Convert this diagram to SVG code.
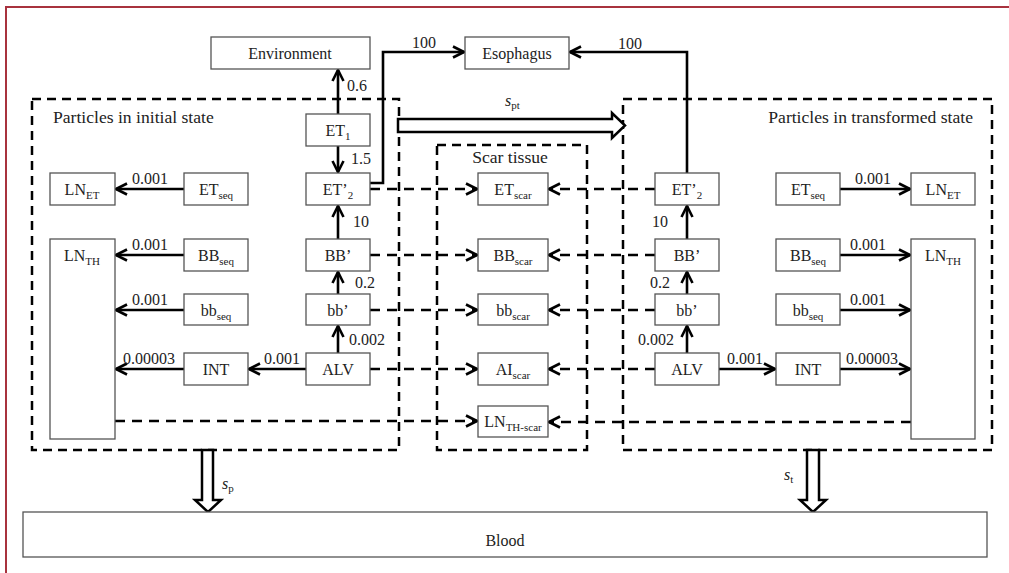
<svg xmlns="http://www.w3.org/2000/svg" width="1009" height="573" viewBox="0 0 1009 573">
<style>
text{font-family:'Liberation Serif','Times New Roman','DejaVu Serif',serif;font-size:16px;fill:#222}
.sub{font-size:11px}
.title{font-size:17.6px}
.box{fill:#fff;stroke:#555;stroke-width:1.3}
.dbox{fill:none;stroke:#000;stroke-width:2.5;stroke-dasharray:9 6}
.arr{fill:none;stroke:#000;stroke-width:2.6;marker-end:url(#ah)}
.dash{stroke-dasharray:10 7}
.hollow{fill:#fff;stroke:#000;stroke-width:2.5;stroke-linejoin:miter}
.it{font-style:italic}
</style>
<defs>
<marker id="ah" viewBox="0 0 14 14" refX="12" refY="7" markerWidth="14" markerHeight="14" markerUnits="userSpaceOnUse" orient="auto">
<path d="M1,1.5 L12,7 L1,12.5" fill="none" stroke="#000" stroke-width="2.6"/>
</marker>
</defs>
<rect width="1009" height="573" fill="#fff"/>
<path d="M6,573 V7 H1009" fill="none" stroke="#a8323e" stroke-width="2"/>

<g id="groups">
<rect class="dbox" x="32" y="99" width="367" height="351"/>
<rect class="dbox" x="437" y="145" width="150" height="305"/>
<rect class="dbox" x="623" y="99" width="369" height="351"/>
<text class="title" x="53" y="123">Particles in initial state</text>
<text class="title" x="973" y="123" text-anchor="end">Particles in transformed  state</text>
<text class="title" x="510" y="163" text-anchor="middle">Scar tissue</text>
</g>

<g id="connectors">
<path class="arr" d="M338,114 V70"/>
<path class="arr" d="M338,146 V172"/>
<path class="arr" d="M338,239 V206"/>
<path class="arr" d="M338,294 V272"/>
<path class="arr" d="M338,353 V326"/>
<path class="arr" d="M370,183 H383 V52 H464"/>
<path class="arr" d="M184,189 H116"/>
<path class="arr" d="M184,255 H116"/>
<path class="arr" d="M184,310 H116"/>
<path class="arr" d="M184,369 H116"/>
<path class="arr" d="M306,369 H249"/>
<path class="arr" d="M687,173 V52 H570"/>
<path class="arr" d="M687,239 V206"/>
<path class="arr" d="M687,294 V272"/>
<path class="arr" d="M687,353 V326"/>
<path class="arr" d="M840,189 H910"/>
<path class="arr" d="M840,255 H910"/>
<path class="arr" d="M840,310 H910"/>
<path class="arr" d="M840,369 H910"/>
<path class="arr" d="M719,369 H775"/>
<path class="arr dash" d="M370,189 H477"/>
<path class="arr dash" d="M655,189 H549"/>
<path class="arr dash" d="M370,255 H477"/>
<path class="arr dash" d="M655,255 H549"/>
<path class="arr dash" d="M370,310 H477"/>
<path class="arr dash" d="M655,310 H549"/>
<path class="arr dash" d="M370,369 H477"/>
<path class="arr dash" d="M655,369 H549"/>
<path class="arr dash" d="M115,421 H477"/>
<path class="arr dash" d="M911,422 H549"/>
<polygon class="hollow" points="398,119 612,119 612,113 625,125.5 612,138 612,132 398,132"/>
<polygon class="hollow" points="202,450 202,500 195,500 208,512 221,500 213,500 213,450"/>
<polygon class="hollow" points="807,450 807,500 800,500 813,512 826,500 819,500 819,450"/>
<text x="347" y="91">0.6</text>
<text x="351" y="164">1.5</text>
<text x="353" y="227">10</text>
<text x="355" y="288">0.2</text>
<text x="349" y="345">0.002</text>
<text x="424" y="48" text-anchor="middle">100</text>
<text x="630" y="49" text-anchor="middle">100</text>
<text x="668" y="227" text-anchor="end">10</text>
<text x="670" y="288" text-anchor="end">0.2</text>
<text x="674" y="345" text-anchor="end">0.002</text>
<text x="150" y="184" text-anchor="middle">0.001</text>
<text x="150" y="250" text-anchor="middle">0.001</text>
<text x="150" y="305" text-anchor="middle">0.001</text>
<text x="149" y="364" text-anchor="middle">0.00003</text>
<text x="282" y="364" text-anchor="middle">0.001</text>
<text x="873" y="184" text-anchor="middle">0.001</text>
<text x="868" y="250" text-anchor="middle">0.001</text>
<text x="868" y="305" text-anchor="middle">0.001</text>
<text x="872" y="364" text-anchor="middle">0.00003</text>
<text x="745" y="364" text-anchor="middle">0.001</text>
<text x="505" y="106" class="it" font-size="17">s<tspan class="sub" font-style="normal" dy="3">pt</tspan></text>
<text x="222" y="489" class="it" font-size="15">s<tspan class="sub" font-style="normal" dy="3">p</tspan></text>
<text x="784" y="480" class="it" font-size="15">s<tspan class="sub" font-style="normal" dy="3">t</tspan></text>
</g>

<g id="environment"><rect class="box" x="211" y="37" width="159" height="32"/><text x="290" y="59" text-anchor="middle">Environment</text></g>
<g id="esophagus"><rect class="box" x="465" y="37" width="104" height="32"/><text x="517" y="59" text-anchor="middle">Esophagus</text></g>
<g id="blood"><rect class="box" x="23" y="512" width="964" height="45"/><text x="505" y="546" text-anchor="middle">Blood</text></g>

<g id="ET1"><rect class="box" x="306" y="114" width="64" height="32"/><text x="338" y="136" text-anchor="middle">ET<tspan class="sub" dy="4">1</tspan></text></g>
<g id="ET2p-left"><rect class="box" x="306" y="173" width="64" height="32"/><text x="338" y="195" text-anchor="middle">ET’<tspan class="sub" dy="4">2</tspan></text></g>
<g id="BBp-left"><rect class="box" x="306" y="239" width="64" height="32"/><text x="338" y="261" text-anchor="middle">BB’</text></g>
<g id="bbp-left"><rect class="box" x="306" y="294" width="64" height="31"/><text x="338" y="316" text-anchor="middle">bb’</text></g>
<g id="ALV-left"><rect class="box" x="306" y="353" width="64" height="32"/><text x="338" y="375" text-anchor="middle">ALV</text></g>
<g id="LNET-left"><rect class="box" x="50" y="173" width="65" height="32"/><text x="82" y="195" text-anchor="middle">LN<tspan class="sub" dy="4">ET</tspan></text></g>
<g id="ETseq-left"><rect class="box" x="184" y="173" width="64" height="32"/><text x="216" y="195" text-anchor="middle">ET<tspan class="sub" dy="4">seq</tspan></text></g>
<g id="LNTH-left"><rect class="box" x="50" y="239" width="65" height="200"/><text x="82" y="261" text-anchor="middle">LN<tspan class="sub" dy="4">TH</tspan></text></g>
<g id="BBseq-left"><rect class="box" x="184" y="239" width="64" height="32"/><text x="216" y="261" text-anchor="middle">BB<tspan class="sub" dy="4">seq</tspan></text></g>
<g id="bbseq-left"><rect class="box" x="184" y="294" width="64" height="31"/><text x="216" y="316" text-anchor="middle">bb<tspan class="sub" dy="4">seq</tspan></text></g>
<g id="INT-left"><rect class="box" x="184" y="353" width="64" height="32"/><text x="216" y="375" text-anchor="middle">INT</text></g>

<g id="ETscar"><rect class="box" x="478" y="173" width="70" height="32"/><text x="513" y="195" text-anchor="middle">ET<tspan class="sub" dy="4">scar</tspan></text></g>
<g id="BBscar"><rect class="box" x="478" y="239" width="70" height="32"/><text x="513" y="261" text-anchor="middle">BB<tspan class="sub" dy="4">scar</tspan></text></g>
<g id="bbscar"><rect class="box" x="478" y="294" width="70" height="31"/><text x="513" y="316" text-anchor="middle">bb<tspan class="sub" dy="4">scar</tspan></text></g>
<g id="AIscar"><rect class="box" x="478" y="353" width="70" height="32"/><text x="513" y="375" text-anchor="middle">AI<tspan class="sub" dy="4">scar</tspan></text></g>
<g id="LNTHscar"><rect class="box" x="478" y="406" width="70" height="31"/><text x="513" y="427" text-anchor="middle">LN<tspan class="sub" dy="4">TH-scar</tspan></text></g>

<g id="ET2p-right"><rect class="box" x="655" y="173" width="64" height="32"/><text x="687" y="195" text-anchor="middle">ET’<tspan class="sub" dy="4">2</tspan></text></g>
<g id="BBp-right"><rect class="box" x="655" y="239" width="64" height="32"/><text x="687" y="261" text-anchor="middle">BB’</text></g>
<g id="bbp-right"><rect class="box" x="655" y="294" width="64" height="31"/><text x="687" y="316" text-anchor="middle">bb’</text></g>
<g id="ALV-right"><rect class="box" x="655" y="353" width="64" height="32"/><text x="687" y="375" text-anchor="middle">ALV</text></g>
<g id="ETseq-right"><rect class="box" x="776" y="173" width="64" height="32"/><text x="808" y="195" text-anchor="middle">ET<tspan class="sub" dy="4">seq</tspan></text></g>
<g id="LNET-right"><rect class="box" x="911" y="173" width="64" height="32"/><text x="943" y="195" text-anchor="middle">LN<tspan class="sub" dy="4">ET</tspan></text></g>
<g id="BBseq-right"><rect class="box" x="776" y="239" width="64" height="32"/><text x="808" y="261" text-anchor="middle">BB<tspan class="sub" dy="4">seq</tspan></text></g>
<g id="bbseq-right"><rect class="box" x="776" y="294" width="64" height="31"/><text x="808" y="316" text-anchor="middle">bb<tspan class="sub" dy="4">seq</tspan></text></g>
<g id="INT-right"><rect class="box" x="776" y="353" width="64" height="32"/><text x="808" y="375" text-anchor="middle">INT</text></g>
<g id="LNTH-right"><rect class="box" x="911" y="239" width="64" height="200"/><text x="943" y="261" text-anchor="middle">LN<tspan class="sub" dy="4">TH</tspan></text></g>
</svg>
